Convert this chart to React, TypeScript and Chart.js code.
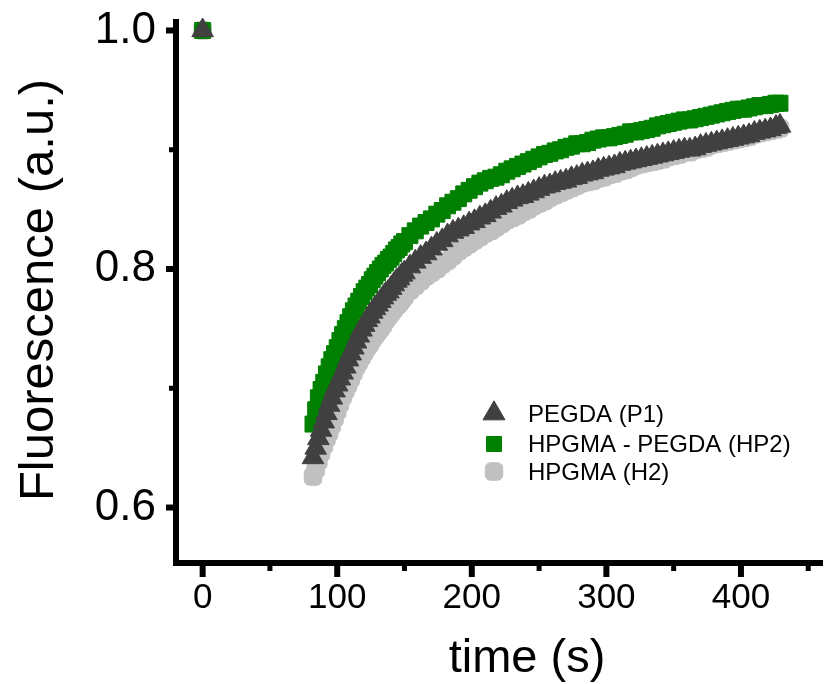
import { useEffect, useRef } from 'react';
import { Chart, registerables } from 'chart.js';
import { drawPoint } from 'chart.js/helpers';

Chart.register(...registerables);

// time (s)
const times = [
  0,
  82, 84, 86, 88, 90, 92, 94, 96, 98, 100,
  102, 104, 106, 108, 110, 112, 114, 116, 118, 120,
  122, 124, 126, 128, 130, 132, 134, 136, 138, 140,
  142, 144, 146, 148, 150,
  154, 158, 162, 166, 170, 174, 178, 182, 186, 190,
  194, 198, 202, 206, 210, 214, 218, 222, 226, 230,
  234, 238, 242, 246, 250, 254, 258, 262, 266, 270,
  274, 278, 282, 286, 290, 294, 298, 302, 306, 310,
  314, 318, 322, 326, 330, 334, 338, 342, 346, 350,
  354, 358, 362, 366, 370, 374, 378, 382, 386, 390,
  394, 398, 402, 406, 410, 414, 418, 422, 426,
  429,
];

// PEGDA (P1)
const pegda = [
  1.0,
  0.642, 0.650, 0.658, 0.665, 0.672, 0.679, 0.686, 0.692, 0.698, 0.703,
  0.708, 0.713, 0.718, 0.724, 0.729, 0.734, 0.739, 0.744, 0.749, 0.753,
  0.757, 0.760, 0.764, 0.767, 0.770, 0.773, 0.776, 0.779, 0.781, 0.784,
  0.787, 0.790, 0.792, 0.795, 0.797,
  0.802, 0.806, 0.810, 0.813, 0.817, 0.821, 0.824, 0.828, 0.831, 0.833,
  0.835, 0.838, 0.840, 0.843, 0.845, 0.848, 0.851, 0.853, 0.856, 0.858,
  0.860, 0.861, 0.863, 0.865, 0.867, 0.869, 0.870, 0.872, 0.873, 0.874,
  0.876, 0.877, 0.879, 0.880, 0.881, 0.883, 0.884, 0.885, 0.886, 0.888,
  0.889, 0.890, 0.891, 0.892, 0.893, 0.894, 0.895, 0.896, 0.897, 0.898,
  0.899, 0.900, 0.900, 0.901, 0.903, 0.904, 0.905, 0.906, 0.907, 0.908,
  0.909, 0.910, 0.911, 0.912, 0.914, 0.915, 0.916, 0.917, 0.919,
  0.920,
];

// HPGMA - PEGDA (HP2)
const hp2 = [
  1.0,
  0.670, 0.682, 0.692, 0.699, 0.705, 0.712, 0.718, 0.724, 0.729, 0.734,
  0.740, 0.745, 0.750, 0.755, 0.760, 0.765, 0.769, 0.773, 0.777, 0.781,
  0.784, 0.787, 0.791, 0.794, 0.797, 0.800, 0.803, 0.805, 0.808, 0.810,
  0.813, 0.816, 0.818, 0.821, 0.823,
  0.828, 0.832, 0.836, 0.839, 0.842, 0.846, 0.849, 0.853, 0.856, 0.859,
  0.863, 0.866, 0.869, 0.872, 0.874, 0.876, 0.877, 0.879, 0.882, 0.884,
  0.886, 0.888, 0.890, 0.892, 0.894, 0.896, 0.897, 0.899, 0.900, 0.902,
  0.903, 0.905, 0.905, 0.906, 0.908, 0.909, 0.910, 0.910, 0.911, 0.912,
  0.913, 0.915, 0.915, 0.916, 0.917, 0.918, 0.920, 0.921, 0.922, 0.923,
  0.924, 0.925, 0.925, 0.926, 0.927, 0.928, 0.929, 0.930, 0.931, 0.932,
  0.933, 0.934, 0.934, 0.935, 0.936, 0.937, 0.937, 0.938, 0.939,
  0.939,
];

// HPGMA (H2)
const h2 = [
  1.0,
  0.626, 0.632, 0.639, 0.646, 0.652, 0.658, 0.663, 0.669, 0.675, 0.681,
  0.687, 0.693, 0.698, 0.703, 0.708, 0.713, 0.718, 0.722, 0.726, 0.730,
  0.734, 0.737, 0.741, 0.744, 0.747, 0.750, 0.753, 0.757, 0.760, 0.763,
  0.766, 0.769, 0.771, 0.774, 0.777,
  0.782, 0.786, 0.790, 0.794, 0.797, 0.800, 0.804, 0.807, 0.811, 0.815,
  0.818, 0.821, 0.824, 0.827, 0.830, 0.832, 0.835, 0.838, 0.841, 0.843,
  0.845, 0.848, 0.850, 0.853, 0.855, 0.857, 0.860, 0.862, 0.864, 0.866,
  0.868, 0.870, 0.872, 0.873, 0.874, 0.876, 0.877, 0.879, 0.880, 0.882,
  0.883, 0.885, 0.887, 0.888, 0.889, 0.890, 0.891, 0.892, 0.894, 0.895,
  0.896, 0.898, 0.898, 0.900, 0.901, 0.902, 0.904, 0.905, 0.906, 0.907,
  0.908, 0.909, 0.910, 0.911, 0.913, 0.914, 0.915, 0.916, 0.917,
  0.918,
];

const seriesLabels = ['PEGDA (P1)', 'HPGMA - PEGDA (HP2)', 'HPGMA (H2)'];
const xMajorTicks = [0, 100, 200, 300, 400];
const xMinorTicks = [50, 150, 250, 350, 450];
const yMajorTicks = [0.6, 0.8, 1.0];
const yMinorTicks = [0.7, 0.9];
const xTitle = 'time (s)';
const yTitle = 'Fluorescence (a.u.)';

const FONT = '"Liberation Sans", Arial, sans-serif';

const toPoints = (vals: number[]) => times.map((t, i) => ({ x: t, y: vals[i] }));

const decorPlugin = {
  id: 'decor',
  afterDraw(chart: any) {
    const { ctx, chartArea } = chart;
    const xs = chart.scales.x;
    const ys = chart.scales.y;
    ctx.save();
    ctx.fillStyle = '#000';
    // x tick marks
    xMajorTicks.forEach((v) => {
      const px = xs.getPixelForValue(v);
      ctx.fillRect(px - 3, chartArea.bottom, 6, 14);
    });
    xMinorTicks.forEach((v) => {
      const px = xs.getPixelForValue(v);
      ctx.fillRect(px - 2.5, chartArea.bottom, 5, 8);
    });
    // y tick marks
    yMajorTicks.forEach((v) => {
      const py = ys.getPixelForValue(v);
      ctx.fillRect(chartArea.left - 10, py - 3, 10, 6);
    });
    yMinorTicks.forEach((v) => {
      const py = ys.getPixelForValue(v);
      ctx.fillRect(chartArea.left - 7, py - 2.5, 7, 5);
    });

    // axis titles
    ctx.fillStyle = '#000';
    ctx.textAlign = 'center';
    ctx.textBaseline = 'alphabetic';
    ctx.font = `47px ${FONT}`;
    ctx.fillText(xTitle, 527, 672);
    ctx.save();
    ctx.translate(53, 290);
    ctx.rotate(-Math.PI / 2);
    ctx.font = `49px ${FONT}`;
    ctx.fillText(yTitle, 0, 0);
    ctx.restore();

    // legend
    const markerX = 494;
    const markerY = [413.5, 444, 471.5];
    const textY = [421.5, 451.5, 480];
    const legendRadius = [12.7, 10.6, 10.2];
    chart.data.datasets.forEach((ds: any, i: number) => {
      ctx.fillStyle = ds.backgroundColor;
      ctx.strokeStyle = ds.borderColor;
      ctx.lineWidth = 1;
      drawPoint(ctx, { pointStyle: ds.pointStyle, radius: legendRadius[i], rotation: 0, borderWidth: 1 }, markerX, markerY[i]);
      ctx.fillStyle = '#000';
      ctx.textAlign = 'left';
      ctx.textBaseline = 'alphabetic';
      ctx.font = `24px ${FONT}`;
      ctx.fillText(ds.label, 528, textY[i]);
    });
    ctx.restore();
  },
};

export default function App() {
  const ref = useRef<HTMLCanvasElement | null>(null);

  useEffect(() => {
    if (!ref.current) return;
    const chart = new Chart(ref.current, {
      type: 'scatter',
      data: {
        datasets: [
          {
            label: seriesLabels[0],
            data: toPoints(pegda),
            pointStyle: 'triangle',
            pointRadius: 12.5,
            backgroundColor: '#404040',
            borderColor: '#404040',
            borderWidth: 1,
            clip: false,
          },
          {
            label: seriesLabels[1],
            data: toPoints(hp2),
            pointStyle: 'rect',
            pointRadius: 11.3,
            backgroundColor: '#008000',
            borderColor: '#008000',
            borderWidth: 1,
            clip: false,
          },
          {
            label: seriesLabels[2],
            data: toPoints(h2),
            pointStyle: 'rectRounded',
            pointRadius: 10.2,
            backgroundColor: '#c0c0c0',
            borderColor: '#c0c0c0',
            borderWidth: 1,
            clip: false,
          },
        ] as any,
      },
      options: {
        responsive: false,
        animation: false,
        events: [],
        layout: { padding: { top: 22, right: 0, left: 0, bottom: 0 } },
        plugins: {
          legend: { display: false },
          tooltip: { enabled: false },
        },
        scales: {
          x: {
            type: 'linear',
            min: -19.8,
            max: 460.6,
            afterBuildTicks: (s: any) => {
              s.ticks = xMajorTicks.map((v) => ({ value: v }));
            },
            afterFit: (s: any) => {
              s.height = 121;
              s.paddingLeft = 0;
              s.paddingRight = 0;
            },
            grid: { display: false, drawTicks: false },
            border: { display: true, color: '#000', width: 6 },
            ticks: {
              color: '#000',
              font: { family: FONT, size: 35 },
              padding: 14,
              maxRotation: 0,
              autoSkip: false,
              callback: (v: any) => String(v),
            },
          },
          y: {
            type: 'linear',
            min: 0.5535,
            max: 1.0071,
            afterBuildTicks: (s: any) => {
              s.ticks = yMajorTicks.map((v) => ({ value: v }));
            },
            afterFit: (s: any) => {
              s.width = 176;
              s.paddingTop = 0;
              s.paddingBottom = 0;
            },
            grid: { display: false, drawTicks: false },
            border: { display: true, color: '#000', width: 6 },
            ticks: {
              color: '#000',
              font: { family: FONT, size: 44 },
              padding: 20,
              autoSkip: false,
              callback: (v: any) => Number(v).toFixed(1),
            },
          },
        },
      },
      plugins: [decorPlugin],
    });
    return () => chart.destroy();
  }, []);

  return (
    <div style={{ position: 'fixed', left: 0, top: 0, width: 836, height: 684, background: '#fff' }}>
      <canvas ref={ref} width={836} height={684} style={{ display: 'block' }} />
    </div>
  );
}
